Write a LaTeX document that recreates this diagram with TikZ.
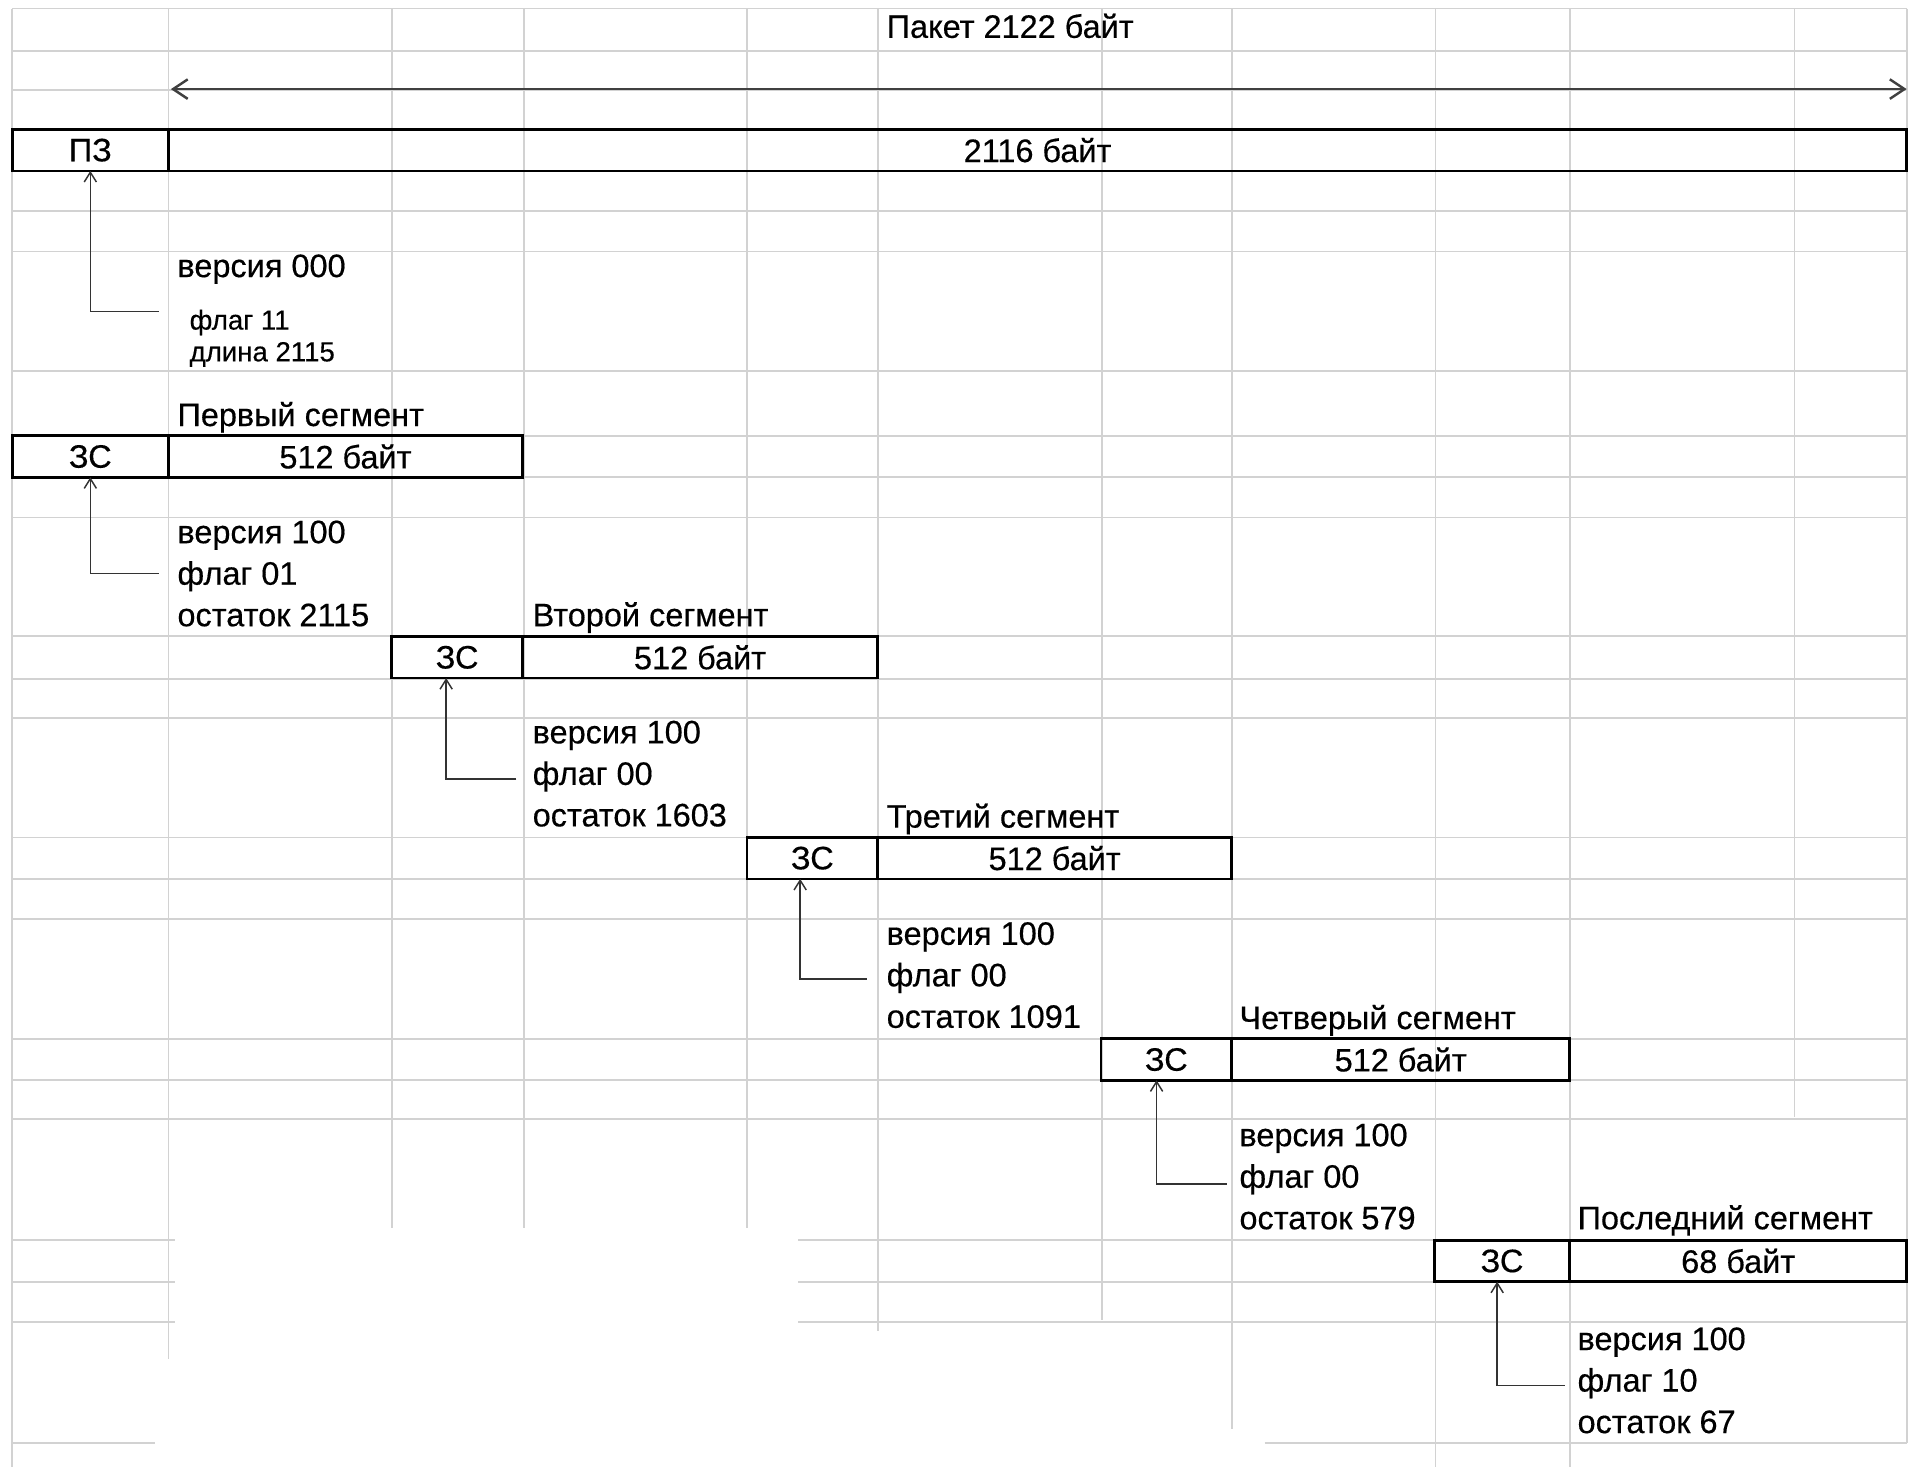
\documentclass[tikz,border=0pt]{standalone}
\usepackage{fontspec}
\setmainfont{Liberation Sans}[FakeBold=0.4]
\usetikzlibrary{arrows.meta}
\newcommand{\mainsz}{\fontsize{13.3}{15}\selectfont}
\newcommand{\smallsz}{\fontsize{11.3}{13}\selectfont}
\begin{document}
\begin{tikzpicture}[x=0.5pt,y=-0.5pt,
  gline/.style={draw=gray!35,line width=0.7pt},
  cell/.style={draw=black,line width=1.1pt,inner sep=0pt,outer sep=0pt,minimum height=17pt,font=\mainsz},
  lbl/.style={anchor=base west,inner sep=0pt,font=\mainsz},
  slbl/.style={anchor=base west,inner sep=0pt,font=\smallsz},
  conn/.style={draw=black!80,line width=0.6pt,-{Straight Barb[length=4pt,width=5pt]}},
  span/.style={draw=black!75,line width=1pt,{Straight Barb[length=6pt,width=8pt]}-{Straight Barb[length=6pt,width=8pt]}}]
\fill[white] (0,0) rectangle (1568,1202);
\useasboundingbox (0,0) rectangle (1568,1202);
% spreadsheet grid
\foreach \y in {7,42,74,106,140,173,206,304,357,391,424,521,556,588,686,720,753,851,885,917}
  \draw[gline] (10,\y) -- (1562,\y);
\foreach \y in {1016,1050,1083}{
  \draw[gline] (10,\y) -- (143,\y);
  \draw[gline] (654,\y) -- (1562,\y);}
\draw[gline] (10,1182) -- (127,1182);
\draw[gline] (1036,1182) -- (1562,1182);
\draw[gline] (10,7) -- (10,1202);
\draw[gline] (138,7) -- (138,1113);
\foreach \x in {321,429,612} \draw[gline] (\x,7) -- (\x,1006);
\draw[gline] (719,7) -- (719,1090);
\draw[gline] (903,7) -- (903,1081);
\draw[gline] (1009,7) -- (1009,1171);
\draw[gline] (1176,7) -- (1176,1202);
\draw[gline] (1286,7) -- (1286,1202);
\draw[gline] (1470,7) -- (1470,915);
\draw[gline] (1562,7) -- (1562,1182);

% packet
\node[lbl] (title) at (726,31) {Пакет 2122 байт};
\coordinate (pl) at (140,73);
\coordinate (pr) at (1562,73);
\draw[span] (pl) -- (pr);
\node[cell,minimum width=64pt] (h0) at (74,123) {ПЗ};
\node[cell,minimum width=712pt] (d0) at (850,123) {2116 байт};
\node[lbl] (v0) at (145,227) {версия 000};
\node[slbl] (f0) at (155,270) {флаг 11};
\node[slbl] (l0) at (155,296) {длина 2115};
\coordinate (e0) at (130,255);
\draw[conn] (e0) -| (h0.south);

% first segment
\node[lbl] (s1) at (145,349) {Первый сегмент};
\node[cell,minimum width=64pt] (h1) at (74,374) {ЗС};
\node[cell,minimum width=145pt] (d1) at (283,374) {512 байт};
\node[lbl] (v1) at (145,445) {версия 100};
\node[lbl] (f1) at (145,479) {флаг 01};
\node[lbl] (o1) at (145,513) {остаток 2115};
\coordinate (e1) at (130,470);
\draw[conn] (e1) -| (h1.south);

% second segment
\node[lbl] (s2) at (436,513) {Второй сегмент};
\node[cell,minimum width=53.5pt] (h2) at (374.5,538.5) {ЗС};
\node[cell,minimum width=145.5pt] (d2) at (573.5,538.5) {512 байт};
\node[lbl] (v2) at (436,609) {версия 100};
\node[lbl] (f2) at (436,643) {флаг 00};
\node[lbl] (o2) at (436,677) {остаток 1603};
\coordinate (e2) at (423,638);
\draw[conn] (e2) -| ([xshift=-4.5pt]h2.south);

% third segment
\node[lbl] (s3) at (726,678) {Третий сегмент};
\node[cell,minimum width=53.5pt] (h3) at (665.5,703) {ЗС};
\node[cell,minimum width=145pt] (d3) at (864,703) {512 байт};
\node[lbl] (v3) at (726,774) {версия 100};
\node[lbl] (f3) at (726,808) {флаг 00};
\node[lbl] (o3) at (726,842) {остаток 1091};
\coordinate (e3) at (710,802);
\draw[conn] (e3) -| ([xshift=-5pt]h3.south);

% fourth segment
\node[lbl] (s4) at (1015,843) {Четверый сегмент};
\node[cell,minimum width=53.5pt] (h4) at (955.5,868) {ЗС};
\node[cell,minimum width=138.5pt] (d4) at (1147.5,868) {512 байт};
\node[lbl] (v4) at (1015,939) {версия 100};
\node[lbl] (f4) at (1015,973) {флаг 00};
\node[lbl] (o4) at (1015,1007) {остаток 579};
\coordinate (e4) at (1005,970);
\draw[conn] (e4) -| ([xshift=-4pt]h4.south);

% last segment
\node[lbl] (s5) at (1292,1007) {Последний сегмент};
\node[cell,minimum width=55.5pt] (h5) at (1230.5,1033) {ЗС};
\node[cell,minimum width=138pt] (d5) at (1424,1033) {68 байт};
\node[lbl] (v5) at (1292,1106) {версия 100};
\node[lbl] (f5) at (1292,1140) {флаг 10};
\node[lbl] (o5) at (1292,1174) {остаток 67};
\coordinate (e5) at (1282,1135);
\draw[conn] (e5) -| ([xshift=-2pt]h5.south);
\end{tikzpicture}
\end{document}
